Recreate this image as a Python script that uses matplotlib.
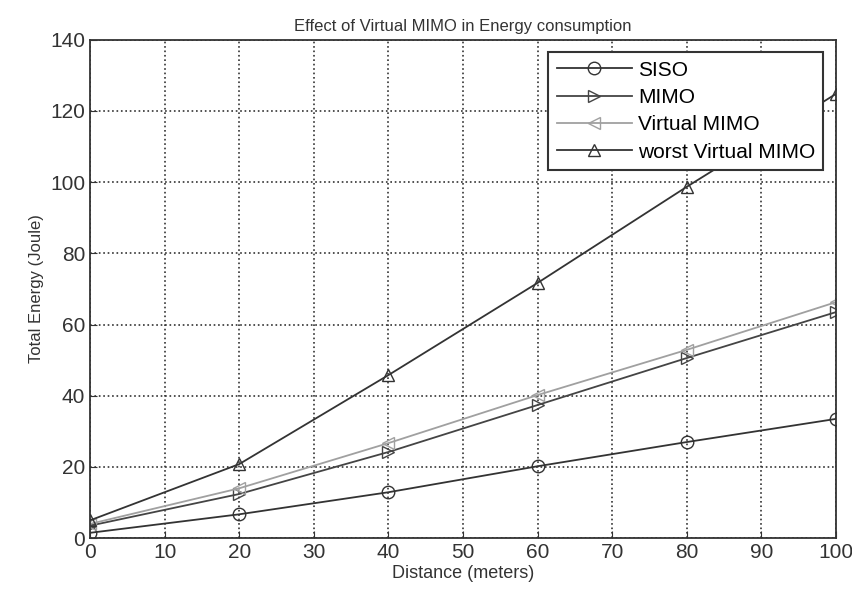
import matplotlib.pyplot as plt

plt.rcParams['font.family'] = ['Liberation Sans', 'DejaVu Sans']

distance = [0, 20, 40, 60, 80, 100]
siso = [1.5, 6.7, 12.9, 20.2, 27.0, 33.5]
mimo = [3.5, 12.4, 24.2, 37.4, 50.6, 63.5]
virtual_mimo = [4.0, 14.0, 26.7, 40.2, 52.9, 66.3]
worst_virtual = [5.0, 20.8, 45.8, 71.7, 98.7, 124.8]

fig = plt.figure(figsize=(8.53, 5.94), dpi=100)
ax = fig.add_axes([0.1055, 0.094, 0.8745, 0.839])

ax.plot(distance, siso, color='#333333', marker='o', mfc='none', ms=9, lw=1.3, label='SISO')
ax.plot(distance, mimo, color='#444444', marker='>', mfc='none', ms=9, lw=1.3, label='MIMO')
ax.plot(distance, virtual_mimo, color='#a0a0a0', marker='<', mfc='none', ms=9, lw=1.3, label='Virtual MIMO')
ax.plot(distance, worst_virtual, color='#333333', marker='^', mfc='none', ms=9, lw=1.3, label='worst Virtual MIMO')

ax.set_xlim(0, 100)
ax.set_ylim(0, 140)
ax.set_xticks(range(0, 101, 10))
ax.set_yticks(range(0, 141, 20))
ax.tick_params(direction='in', labelsize=15, colors='#333333', length=5)
ax.grid(True, linestyle=':', color='#333333', lw=1.2)
for s in ax.spines.values():
    s.set_color('#333333')
    s.set_linewidth(1.3)

ax.set_title('Effect of Virtual MIMO in Energy consumption', fontsize=12, color='#333333')
ax.set_xlabel('Distance (meters)', fontsize=13, color='#333333', labelpad=2)
ax.set_ylabel('Total Energy (Joule)', fontsize=12, color='#333333')

leg = ax.legend(loc='upper right', fontsize=15, fancybox=False, framealpha=1,
                edgecolor='#333333', borderaxespad=0.6, handlelength=3.6,
                handletextpad=0.3, labelspacing=0.4, borderpad=0.4)
leg.get_frame().set_linewidth(1.5)

fig.savefig('out.png', dpi=100)
